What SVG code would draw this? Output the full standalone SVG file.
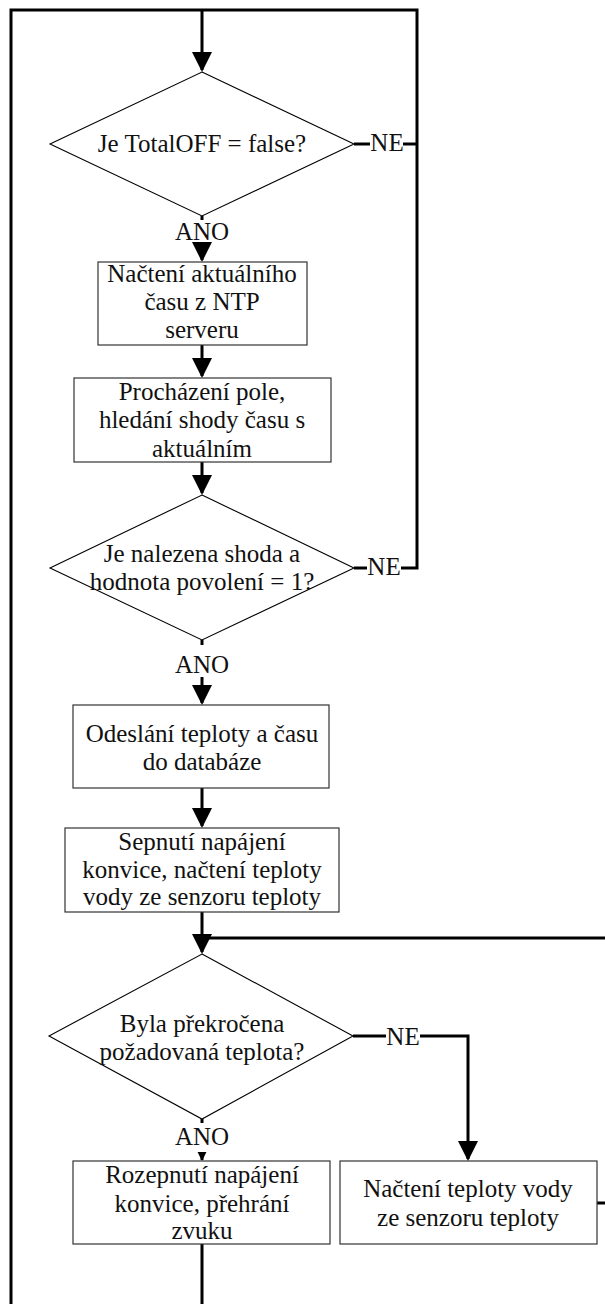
<svg xmlns="http://www.w3.org/2000/svg" width="605" height="1304" viewBox="0 0 605 1304">
  <style>
    .box { fill: #ffffff; stroke: #333333; stroke-width: 1.2; }
    .dia { fill: #ffffff; stroke: #000000; stroke-width: 1.1; }
    .wire { fill: none; stroke: #000000; stroke-width: 3; stroke-linejoin: miter; stroke-linecap: butt; }
    .t { font-family: "Liberation Serif", "DejaVu Serif", serif; font-size: 25px; fill: #111111; text-anchor: middle; }
  </style>
  <defs>
    <marker id="head" viewBox="0 0 20 20" refX="18" refY="10" markerWidth="20" markerHeight="20" markerUnits="userSpaceOnUse" orient="auto">
      <path d="M0,0 L20,10 L0,20 z" fill="#000000"/>
    </marker>
    <marker id="headSmall" viewBox="0 0 10 10" refX="9" refY="5" markerWidth="9" markerHeight="10" markerUnits="userSpaceOnUse" orient="auto">
      <path d="M0,0 L10,5 L0,10 z" fill="#000000"/>
    </marker>
  </defs>

  <!-- connectors -->
  <g id="connectors">
    <!-- outer loop back to the start -->
    <path class="wire" d="M11,1310 V10 H417 V568 H401"/>
    <path class="wire" d="M202,10 V70" marker-end="url(#head)"/>
    <!-- TotalOFF decision -->
    <path class="wire" d="M354,144 H370"/>
    <path class="wire" d="M403,144 H417"/>
    <path class="wire" d="M202,216 V220"/>
    <path class="wire" d="M202,243 V260" marker-end="url(#head)"/>
    <!-- process chain -->
    <path class="wire" d="M202,345 V376" marker-end="url(#head)"/>
    <path class="wire" d="M202,462 V493" marker-end="url(#head)"/>
    <!-- match decision -->
    <path class="wire" d="M354,568 H367"/>
    <path class="wire" d="M202,640 V645"/>
    <path class="wire" d="M202,677 V703" marker-end="url(#head)"/>
    <path class="wire" d="M202,788 V826" marker-end="url(#head)"/>
    <path class="wire" d="M202,912 V952" marker-end="url(#head)"/>
    <!-- temperature loop -->
    <path class="wire" d="M610,938 H202"/>
    <path class="wire" d="M597,1203 H610"/>
    <path class="wire" d="M353,1036 H386"/>
    <path class="wire" d="M420,1036 H468 V1159" marker-end="url(#head)"/>
    <path class="wire" d="M202,1119 V1123"/>
    <path class="wire" d="M202,1152 V1160" marker-end="url(#headSmall)"/>
    <path class="wire" d="M202,1244 V1310"/>
  </g>

  <!-- edge labels -->
  <g id="labels">
    <text class="t" x="387" y="151">NE</text>
    <text class="t" x="202" y="240">ANO</text>
    <text class="t" x="384" y="575">NE</text>
    <text class="t" x="202" y="673">ANO</text>
    <text class="t" x="403" y="1045">NE</text>
    <text class="t" x="202" y="1145">ANO</text>
  </g>

  <g id="d-totaloff">
    <polygon class="dia" points="202,72 354,144 202,216 50,144"/>
    <text class="t" x="202" y="152">Je TotalOFF = false?</text>
  </g>

  <g id="p-ntp">
    <rect class="box" x="98" y="262" width="209" height="83"/>
    <text class="t" x="202" y="282">Načtení aktuálního</text>
    <text class="t" x="202" y="310">času z NTP</text>
    <text class="t" x="202" y="338">serveru</text>
  </g>

  <g id="p-search">
    <rect class="box" x="74" y="378" width="257" height="84"/>
    <text class="t" x="202" y="400">Procházení pole,</text>
    <text class="t" x="202" y="428">hledání shody času s</text>
    <text class="t" x="202" y="457">aktuálním</text>
  </g>

  <g id="d-match">
    <polygon class="dia" points="202,495 354,568 202,640 50,568"/>
    <text class="t" x="202" y="562">Je nalezena shoda a</text>
    <text class="t" x="202" y="590">hodnota povolení = 1?</text>
  </g>

  <g id="p-send">
    <rect class="box" x="73" y="705" width="256" height="83"/>
    <text class="t" x="202" y="742">Odeslání teploty a času</text>
    <text class="t" x="202" y="770">do databáze</text>
  </g>

  <g id="p-heat">
    <rect class="box" x="65" y="828" width="274" height="84"/>
    <text class="t" x="202" y="850">Sepnutí napájení</text>
    <text class="t" x="202" y="878">konvice, načtení teploty</text>
    <text class="t" x="202" y="905">vody ze senzoru teploty</text>
  </g>

  <g id="d-temp">
    <polygon class="dia" points="202,954 353,1036 202,1119 49,1036"/>
    <text class="t" x="202" y="1032">Byla překročena</text>
    <text class="t" x="202" y="1060">požadovaná teplota?</text>
  </g>

  <g id="p-stop">
    <rect class="box" x="73" y="1161" width="257" height="83"/>
    <text class="t" x="202" y="1183">Rozepnutí napájení</text>
    <text class="t" x="202" y="1212">konvice, přehrání</text>
    <text class="t" x="202" y="1239">zvuku</text>
  </g>

  <g id="p-read">
    <rect class="box" x="340" y="1161" width="257" height="83"/>
    <text class="t" x="468" y="1197">Načtení teploty vody</text>
    <text class="t" x="468" y="1226">ze senzoru teploty</text>
  </g>
</svg>
